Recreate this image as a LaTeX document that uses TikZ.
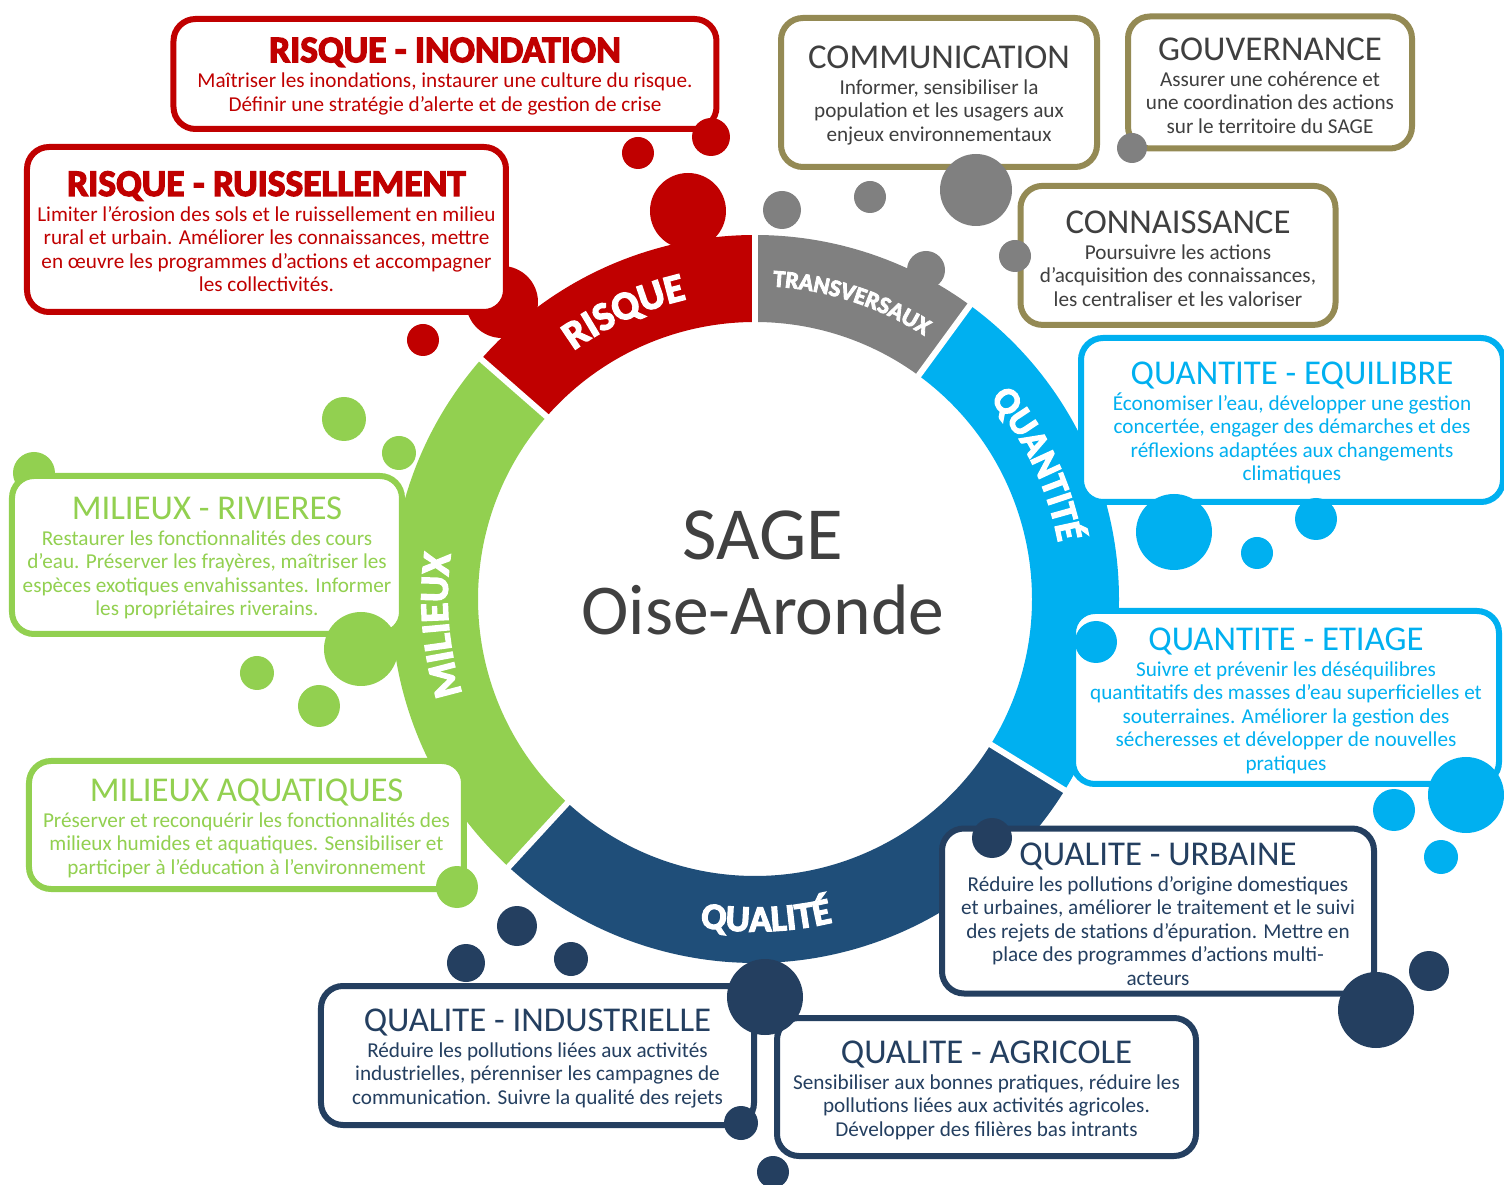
\documentclass[tikz,border=0pt]{standalone}
\usepackage{fontspec}
\setmainfont{Carlito}
\newfontfamily\heavyfam{Carlito}[UprightFont={* Bold}, FakeBold=3.5]
\usetikzlibrary{decorations.text}
\definecolor{riskred}{HTML}{C00000}
\definecolor{transgray}{HTML}{808080}
\definecolor{transolive}{HTML}{948A54}
\definecolor{transtext}{HTML}{3F3F3F}
\definecolor{quantblue}{HTML}{00B0F0}
\definecolor{milgreen}{HTML}{92D050}
\definecolor{qualring}{HTML}{1F4E79}
\definecolor{qualdark}{HTML}{243F60}
\definecolor{sagegray}{HTML}{404040}
\newcommand{\bodyfont}{\fontsize{21.2}{23.5}\selectfont}
\newcommand{\boxtitle}{\fontsize{34.8}{36}\selectfont\rule{0pt}{29pt}}
\newcommand{\risktitle}{\heavyfam\fontsize{37.5}{38}\selectfont\rule{0pt}{29pt}}
\newcommand{\ringfont}[1]{\heavyfam\fontsize{#1}{#1}\selectfont}
\tikzset{%
    % Boxes round the ring
    box/.style      = {draw, line width=6pt, rounded corners=22pt, fill=white,
    align=center, inner sep=0pt, font=\bodyfont},
    riskbox/.style  = {box, draw=riskred, text=riskred},
    transbox/.style = {box, draw=transolive, text=transtext},
    quantbox/.style = {box, draw=quantblue, text=quantblue},
    milbox/.style   = {box, draw=milgreen, text=milgreen},
    qualbox/.style  = {box, draw=qualdark, text=qualdark},
    % Labels on the ring
    ringtext/.style = {decorate, decoration={text along path,
    text align=center, text color=white, text={#1}}}
}
\begin{document}
\begin{tikzpicture}[x=1pt, y=1pt]
	\useasboundingbox (-755,-586) rectangle (749,599);
	\fill[white] (-755,-586) rectangle (749,599);
	% ring
	\foreach \a/\b/\c in {90/138.8/riskred, 138.8/227.4/milgreen, 227.4/328.3/qualring,
	  -31.7/53.8/quantblue, 53.8/90/transgray}
	  \fill[\c] (\a:364) arc[start angle=\a, end angle=\b, radius=364]
	    -- (\b:277) arc[start angle=\b, end angle=\a, radius=277] -- cycle;
	\foreach \a in {90, 138.8, 227.4, 328.3, 53.8}
	  \draw[white, line width=6pt] (\a:270) -- (\a:372);
	\path[ringtext={|\ringfont{40}|RISQUE}] (149.5:307.5) arc[start angle=149.5, end angle=79.5, radius=307.5];
	\path[ringtext={|\ringfont{24}|TRANSVERSAUX}] (107:313) arc[start angle=107, end angle=37, radius=313];
	\path[ringtext={|\ringfont{37}|QUANTITÉ}] (60.5:308.5) arc[start angle=60.5, end angle=-9.5, radius=308.5];
	\path[ringtext={|\ringfont{37}|QUALITÉ}] (-123:332.5) arc[start angle=-123, end angle=-53, radius=332.5];
	\path[ringtext={|\ringfont{40}|MILIEUX}] (219.8:307.5) arc[start angle=219.8, end angle=149.8, radius=307.5];
	
	% bubbles behind the boxes
	\fill[riskred] (-253,297) circle(36);
	\fill[milgreen] (-721,126) circle(21);
	
	\node[riskbox, minimum width=543pt, minimum height=110pt] (inond) at (-310,525)
	  {{\risktitle RISQUE - INONDATION}\\[2pt]
	  Maîtriser les inondations, instaurer une culture du risque.\\
	  Définir une stratégie d’alerte et de gestion de crise};
	\node[riskbox, minimum width=479pt, minimum height=165pt] (ruiss) at (-488.5,369.5)
	  {{\risktitle RISQUE - RUISSELLEMENT}\\[2pt]
	  Limiter l’érosion des sols et le ruissellement en milieu\\
	  rural et urbain. Améliorer les connaissances, mettre\\
	  en œuvre les programmes d’actions et accompagner\\
	  les collectivités.};
	\node[transbox, minimum width=316pt, minimum height=149pt] (comm) at (184,506.5)
	  {{\boxtitle COMMUNICATION}\\[2pt]
	  Informer, sensibiliser la\\
	  population et les usagers aux\\
	  enjeux environnementaux};
	\node[transbox, minimum width=284pt, minimum height=132pt] (gouv) at (515,516.5)
	  {{\boxtitle GOUVERNANCE}\\[2pt]
	  Assurer une cohérence et\\
	  une coordination des actions\\
	  sur le territoire du SAGE};
	\node[transbox, minimum width=315pt, minimum height=139pt] (conn) at (423,343.6)
	  {{\boxtitle CONNAISSANCE}\\[2pt]
	  Poursuivre les actions\\
	  d’acquisition des connaissances,\\
	  les centraliser et les valoriser};
	\node[quantbox, minimum width=422pt, minimum height=164pt] (equil) at (537,179)
	  {{\boxtitle QUANTITE - EQUILIBRE}\\[2pt]
	  Économiser l’eau, développer une gestion\\
	  concertée, engager des démarches et des\\
	  réflexions adaptées aux changements\\
	  climatiques};
	\node[quantbox, minimum width=426pt, minimum height=173pt] (etiage) at (531,-98.5)
	  {{\boxtitle QUANTITE - ETIAGE}\\[2pt]
	  Suivre et prévenir les déséquilibres\\
	  quantitatifs des masses d’eau superficielles et\\
	  souterraines. Améliorer la gestion des\\
	  sécheresses et développer de nouvelles\\
	  pratiques};
	\node[milbox, minimum width=390pt, minimum height=158pt] (rivier) at (-548,44)
	  {{\boxtitle MILIEUX - RIVIERES}\\[2pt]
	  Restaurer les fonctionnalités des cours\\
	  d’eau. Préserver les frayères, maîtriser les\\
	  espèces exotiques envahissantes. Informer\\
	  les propriétaires riverains.};
	\node[milbox, minimum width=435pt, minimum height=128pt] (aquat) at (-508.5,-226)
	  {{\boxtitle MILIEUX AQUATIQUES}\\[2pt]
	  Préserver et reconquérir les fonctionnalités des\\
	  milieux humides et aquatiques. Sensibiliser et\\
	  participer à l’éducation à l’environnement};
	\node[qualbox, minimum width=432pt, minimum height=165pt] (urbain) at (403,-312)
	  {{\boxtitle QUALITE - URBAINE}\\[2pt]
	  Réduire les pollutions d’origine domestiques\\
	  et urbaines, améliorer le traitement et le suivi\\
	  des rejets de stations d’épuration. Mettre en\\
	  place des programmes d’actions multi-\\
	  acteurs};
	\node[qualbox, minimum width=433pt, minimum height=139pt] (indus) at (-217.5,-456.5)
	  {{\boxtitle QUALITE - INDUSTRIELLE}\\[2pt]
	  Réduire les pollutions liées aux activités\\
	  industrielles, pérenniser les campagnes de\\
	  communication. Suivre la qualité des rejets};
	\node[qualbox, minimum width=419pt, minimum height=138pt] (agric) at (231.5,-488)
	  {{\boxtitle QUALITE - AGRICOLE}\\[2pt]
	  Sensibiliser aux bonnes pratiques, réduire les\\
	  pollutions liées aux activités agricoles.\\
	  Développer des filières bas intrants};
	
	% bubbles
	\foreach \x/\y/\r in {-44/462/19, -117/446/16, -67/388/38, -332/259/16}
	  \fill[riskred] (\x,\y) circle(\r);
	\foreach \x/\y/\r in {27/389/19, 115/402/16, 221/409/36, 377/451/15, 260/343/16, 171/329/19}
	  \fill[transgray] (\x,\y) circle(\r);
	\foreach \x/\y/\r in {419/67/38, 502/46/16, 561/80/21, 341/-43/21, 711/-196/38, 639/-211/21, 686/-258/17}
	  \fill[quantblue] (\x,\y) circle(\r);
	\foreach \x/\y/\r in {-411/180/22, -356/146/17, -394/-50/37, -498/-74/17, -436/-107/21, -298/-288/21}
	  \fill[milgreen] (\x,\y) circle(\r);
	\foreach \x/\y/\r in {-238/-327/20, -289/-364/19, -184/-360/17, 10/-398/38, -14/-524/17, 18/-573/16,
	  237/-239/20, 621/-411/38, 674/-372/20}
	  \fill[qualdark] (\x,\y) circle(\r);
	
	\node[font=\fontsize{75}{75}\selectfont, text=sagegray, anchor=base] (sage) at (8,39) {SAGE};
	\node[font=\fontsize{71.5}{72}\selectfont, text=sagegray, anchor=base] (oise) at (8,-36) {Oise-Aronde};
\end{tikzpicture}
\end{document}
